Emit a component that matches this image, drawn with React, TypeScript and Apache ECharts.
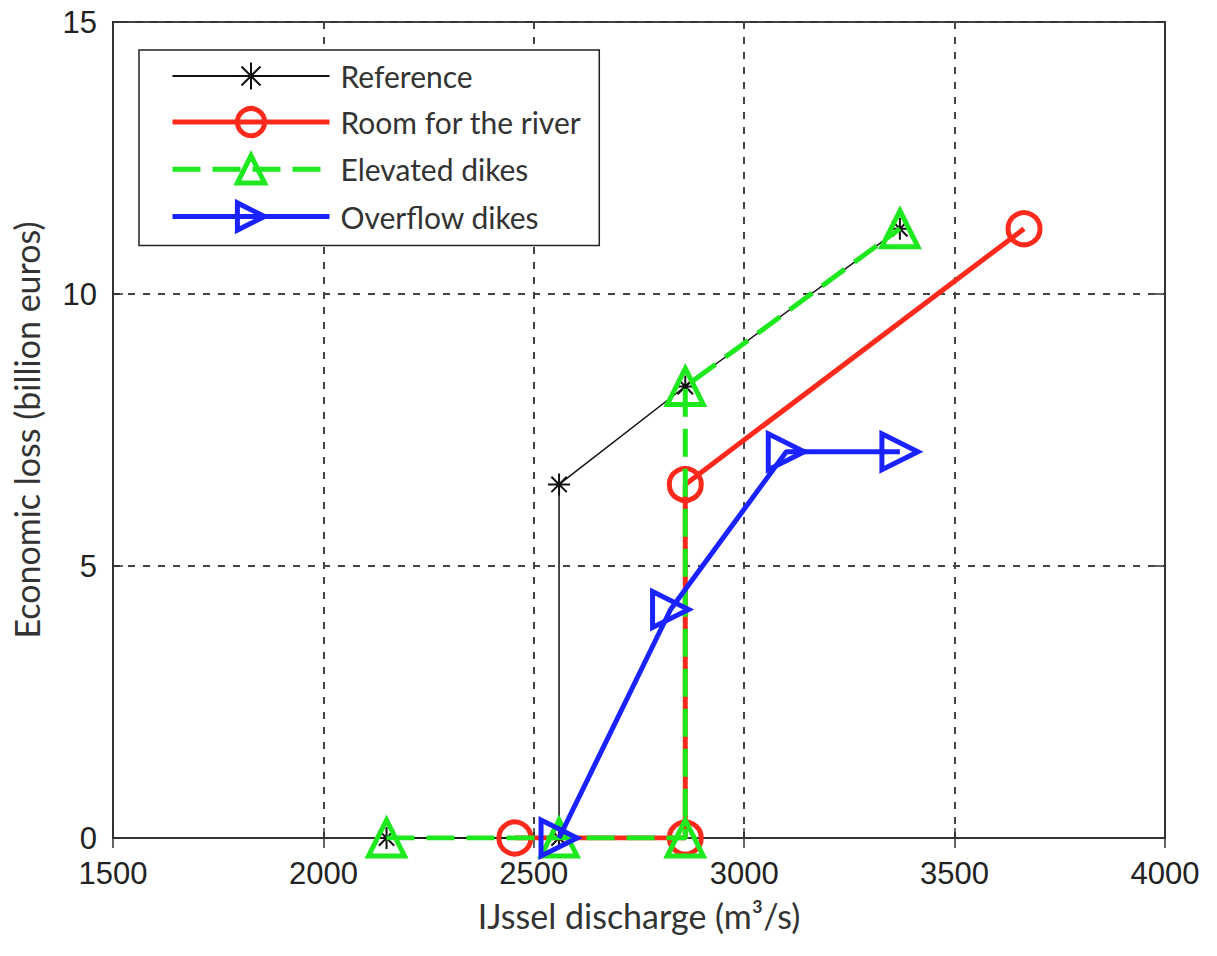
import React, { useEffect, useRef } from 'react';
import * as echarts from 'echarts';

const xMin = 1500;
const xMax = 4000;
const xStep = 500;
const yMin = 0;
const yMax = 15;
const yStep = 5;

const seriesNames = ['Reference', 'Room for the river', 'Elevated dikes', 'Overflow dikes'];

const referenceX = [2150, 2560, 2560, 2860, 3370];
const referenceY = [0, 0, 6.5, 8.3, 11.2];
const roomX = [2455, 2860, 2860, 3665];
const roomY = [0, 0, 6.5, 11.2];
const elevatedX = [2150, 2560, 2860, 2860, 3370];
const elevatedY = [0, 0, 0, 8.3, 11.2];
const overflowX = [2560, 2825, 3100, 3370];
const overflowY = [0, 4.2, 7.1, 7.1];

const RED = '#fb2a1c';
const GREEN = '#1ee81e';
const BLUE = '#1a22ff';
const BLACK = '#111';

const ASTERISK = 'path://M10,0 L10,20 M0,10 L20,10 M3,3 L17,17 M3,17 L17,3';

function pairs(xs: number[], ys: number[]) {
  return xs.map((x, i) => [x, ys[i]]);
}

export default function App() {
  const ref = useRef<HTMLDivElement>(null);
  useEffect(() => {
    if (!ref.current) return;
    const chart = echarts.init(ref.current, null, { renderer: 'svg' });
    const gridLine = { show: true, lineStyle: { color: '#444', width: 2, type: [7, 8] as any } };
    const tickLabel = { fontFamily: 'Liberation Sans', fontSize: 31, color: '#222', formatter: (v: number) => String(v) };
    const transparent = 'rgba(0,0,0,0)';
    chart.setOption({
      animation: false,
      backgroundColor: '#fff',
      grid: {
        left: 113, top: 22, width: 1052, height: 816,
        show: true, borderColor: '#333', borderWidth: 2, backgroundColor: 'transparent',
      },
      legend: {
        data: [
          { name: seriesNames[0], lineStyle: { width: 2, color: BLACK }, itemStyle: { borderWidth: 2, borderColor: BLACK, color: transparent } },
          { name: seriesNames[1], lineStyle: { width: 5, color: RED }, itemStyle: { borderWidth: 5, borderColor: RED, color: transparent } },
          { name: seriesNames[2], lineStyle: { width: 5, color: GREEN, type: [28, 12] }, itemStyle: { borderWidth: 5, borderColor: GREEN, color: transparent } },
          { name: seriesNames[3], lineStyle: { width: 5, color: BLUE }, itemStyle: { borderWidth: 5, borderColor: BLUE, color: transparent } },
        ],
        orient: 'vertical',
        left: 139,
        top: 50,
        itemWidth: 157,
        itemHeight: 34,
        itemGap: 15,
        padding: [11, 18, 13, 31],
        backgroundColor: '#fff',
        borderColor: '#222',
        borderWidth: 1.5,
        selectedMode: false,
        textStyle: { fontFamily: 'Lato', fontSize: 30, color: '#333', padding: [0, 0, 0, 6] },
      },
      xAxis: [
        {
          type: 'value', min: xMin, max: xMax, interval: xStep,
          name: 'IJssel discharge (m³/s)', nameLocation: 'middle', nameGap: 60,
          nameTextStyle: { fontFamily: 'Lato', fontSize: 34, color: '#333' },
          axisLine: { show: true, onZero: false, lineStyle: { color: '#333', width: 2 } },
          axisTick: { show: true, inside: true, length: 10, lineStyle: { color: '#333', width: 1.5 } },
          axisLabel: { ...tickLabel, margin: 20 },
          splitLine: gridLine,
        },
        {
          type: 'value', min: xMin, max: xMax, interval: xStep, position: 'top',
          axisLine: { show: true, lineStyle: { color: '#333', width: 2 } },
          axisTick: { show: true, inside: true, length: 10, lineStyle: { color: '#333', width: 1.5 } },
          axisLabel: { show: false },
          splitLine: { show: false },
        },
      ],
      yAxis: [
        {
          type: 'value', min: yMin, max: yMax, interval: yStep,
          name: 'Economic loss (billion euros)', nameLocation: 'middle', nameGap: 70,
          nameTextStyle: { fontFamily: 'Lato', fontSize: 34, color: '#333' },
          axisLine: { show: true, onZero: false, lineStyle: { color: '#333', width: 2 } },
          axisTick: { show: true, inside: true, length: 10, lineStyle: { color: '#333', width: 1.5 } },
          axisLabel: { ...tickLabel, margin: 16 },
          splitLine: gridLine,
        },
        {
          type: 'value', min: yMin, max: yMax, interval: yStep, position: 'right',
          axisLine: { show: true, lineStyle: { color: '#333', width: 2 } },
          axisTick: { show: true, inside: true, length: 10, lineStyle: { color: '#333', width: 1.5 } },
          axisLabel: { show: false },
          splitLine: { show: false },
        },
      ],
      series: [
        {
          name: seriesNames[0], type: 'line', data: pairs(referenceX, referenceY),
          symbol: ASTERISK, symbolSize: 22,
          lineStyle: { color: BLACK, width: 1.5 },
          itemStyle: { color: transparent, borderColor: BLACK, borderWidth: 2 },
          z: 2,
        },
        {
          name: seriesNames[1], type: 'line', data: pairs(roomX, roomY),
          symbol: 'circle', symbolSize: 32,
          lineStyle: { color: RED, width: 5 },
          itemStyle: { color: transparent, borderColor: RED, borderWidth: 5 },
          z: 3,
        },
        {
          name: seriesNames[2], type: 'line', data: pairs(elevatedX, elevatedY),
          symbol: 'triangle', symbolSize: 36,
          lineStyle: { color: GREEN, width: 5, type: [28, 12] },
          itemStyle: { color: transparent, borderColor: GREEN, borderWidth: 5 },
          z: 4,
        },
        {
          name: seriesNames[3], type: 'line', data: pairs(overflowX, overflowY),
          symbol: 'triangle', symbolRotate: -90, symbolSize: 36,
          lineStyle: { color: BLUE, width: 5 },
          itemStyle: { color: transparent, borderColor: BLUE, borderWidth: 5 },
          z: 5,
        },
      ],
    });
    return () => chart.dispose();
  }, []);
  return (
    <div
      ref={ref}
      style={{ position: 'fixed', left: 0, top: 0, width: 1217, height: 956, background: '#fff' }}
    />
  );
}
